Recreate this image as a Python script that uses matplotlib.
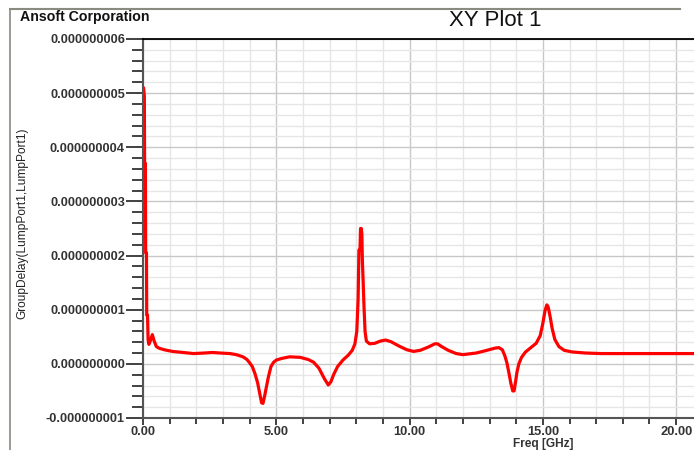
import matplotlib
matplotlib.use("Agg")
import matplotlib.pyplot as plt
from matplotlib.ticker import MultipleLocator, FuncFormatter
from matplotlib.lines import Line2D

freq_ghz = [0.0, 0.02, 0.05, 0.06, 0.09, 0.10, 0.13, 0.14, 0.17, 0.19, 0.22, 0.27, 0.35, 0.42, 0.5, 0.6,
            0.8, 1.1, 1.5, 1.9, 2.3, 2.6, 2.9, 3.26, 3.5, 3.75, 3.9, 4.0, 4.1, 4.2, 4.3, 4.38, 4.45,
            4.5, 4.56, 4.62, 4.7, 4.8, 4.9, 5.0, 5.2, 5.5, 5.9, 6.2, 6.4, 6.6, 6.8, 6.95, 7.05,
            7.15, 7.3, 7.5, 7.7, 7.85, 7.95, 8.02, 8.07, 8.1, 8.14, 8.16, 8.19, 8.21, 8.23, 8.26,
            8.29, 8.33, 8.38, 8.5, 8.7, 8.9, 9.1, 9.3, 9.6, 9.9, 10.15, 10.4, 10.7, 10.95, 11.05,
            11.2, 11.45, 11.75, 12.0, 12.5, 12.9, 13.2, 13.35, 13.48, 13.58, 13.65, 13.72, 13.8,
            13.87, 13.92, 13.97, 14.03, 14.1, 14.2, 14.35, 14.55, 14.75, 14.9, 15.0, 15.08, 15.15,
            15.2, 15.27, 15.35, 15.45, 15.6, 15.8, 16.1, 16.6, 17.2, 18.5, 20.7]
group_delay_ns = [5.1, 5.1, 4.95, 3.7, 3.7, 2.05, 2.05, 0.9, 0.9, 0.45, 0.36, 0.42, 0.54, 0.42, 0.32, 0.29,
                  0.26, 0.23, 0.21, 0.19, 0.2, 0.21, 0.2, 0.19, 0.17, 0.13, 0.08, 0.02, -0.05, -0.18, -0.35, -0.55, -0.72,
                  -0.73, -0.6, -0.45, -0.25, -0.05, 0.03, 0.07, 0.1, 0.13, 0.12, 0.08, 0.03, -0.08, -0.27, -0.39, -0.33,
                  -0.2, -0.05, 0.07, 0.16, 0.25, 0.37, 0.6, 1.2, 2.1, 2.1, 2.5, 2.5, 2.4, 1.9, 1.5,
                  1.06, 0.6, 0.42, 0.37, 0.38, 0.42, 0.44, 0.41, 0.33, 0.26, 0.23, 0.25, 0.31, 0.37, 0.37,
                  0.32, 0.25, 0.19, 0.17, 0.2, 0.25, 0.29, 0.3, 0.26, 0.14, 0.02, -0.15, -0.36,
                  -0.5, -0.5, -0.35, -0.15, 0.0, 0.12, 0.22, 0.3, 0.38, 0.52, 0.75, 0.98, 1.09,
                  1.05, 0.88, 0.65, 0.45, 0.32, 0.25, 0.22, 0.2, 0.19, 0.19, 0.19]
group_delay = [v * 1e-9 for v in group_delay_ns]

FONT = ["Liberation Sans", "DejaVu Sans"]

fig = plt.figure(figsize=(6.94, 4.5), dpi=100)
fig.patch.set_facecolor("white")
ax = fig.add_axes([143 / 694, 1 - 418 / 450, 1 - 143 / 694, (418 - 39) / 450])

ax.plot(freq_ghz, group_delay, color="#ff0000", lw=2.3, solid_joinstyle="round")

ax.set_xlim(0, 20.67)
ax.set_ylim(-1e-9, 6e-9)
ax.xaxis.set_major_locator(MultipleLocator(5))
ax.xaxis.set_minor_locator(MultipleLocator(1))
ax.yaxis.set_major_locator(MultipleLocator(1e-9))
ax.yaxis.set_minor_locator(MultipleLocator(0.2e-9))
ax.xaxis.set_major_formatter(FuncFormatter(lambda v, p: f"{v:.2f}"))
ax.yaxis.set_major_formatter(FuncFormatter(lambda v, p: f"{v:.9f}"))

ax.grid(which="major", color="#c8c8c8", lw=1.0)
ax.grid(which="minor", color="#e6e6e6", lw=1.0)
ax.set_axisbelow(True)

ax.spines["right"].set_visible(False)
ax.spines["top"].set_color("black")
ax.spines["top"].set_linewidth(1.3)
ax.spines["left"].set_color("#555555")
ax.spines["left"].set_linewidth(1.5)
ax.spines["bottom"].set_color("#555555")
ax.spines["bottom"].set_linewidth(1.5)

ax.tick_params(axis="y", which="major", length=12, width=1.3, color="#333333", labelcolor="#333333", pad=1)
ax.tick_params(axis="y", which="minor", length=8, width=1.3, color="#333333")
ax.tick_params(axis="x", which="major", length=5, width=1.3, color="#333333", labelcolor="#333333", pad=0.5)
ax.tick_params(axis="x", which="minor", length=4, width=1.3, color="#333333")
for lab in ax.get_yticklabels():
    lab.set_fontfamily(FONT)
    lab.set_fontweight("bold")
    lab.set_fontsize(9.2)
for lab in ax.get_xticklabels():
    lab.set_fontfamily(FONT)
    lab.set_fontweight("bold")
    lab.set_fontsize(9.3)

fig.text(543 / 694, 1 - 443.5 / 450, "Freq [GHz]", family=FONT, weight="bold",
         size=8.6, color="#333333", ha="center", va="center")
fig.text(22 / 694, 1 - 223 / 450, "GroupDelay(LumpPort1,LumpPort1)", family=FONT,
         size=8.6, color="#222222", ha="center", va="center", rotation=90)

fig.text(20 / 694, 1 - 17 / 450, "Ansoft Corporation", family=FONT,
         weight="bold", size=10.2, va="center", ha="left", color="#111111")
fig.text(495 / 694, 1 - 20 / 450, "XY Plot 1", family=FONT,
         size=16, va="center", ha="center", color="#111111")

fig.add_artist(Line2D([10 / 694, 10 / 694], [0, 1 - 9 / 450], transform=fig.transFigure,
                      color="#8a8a80", lw=1.2))
fig.add_artist(Line2D([10 / 694, 680 / 694], [1 - 9 / 450, 1 - 9 / 450], transform=fig.transFigure,
                      color="#8a8a80", lw=1.5))

fig.savefig("out.png", dpi=100)
